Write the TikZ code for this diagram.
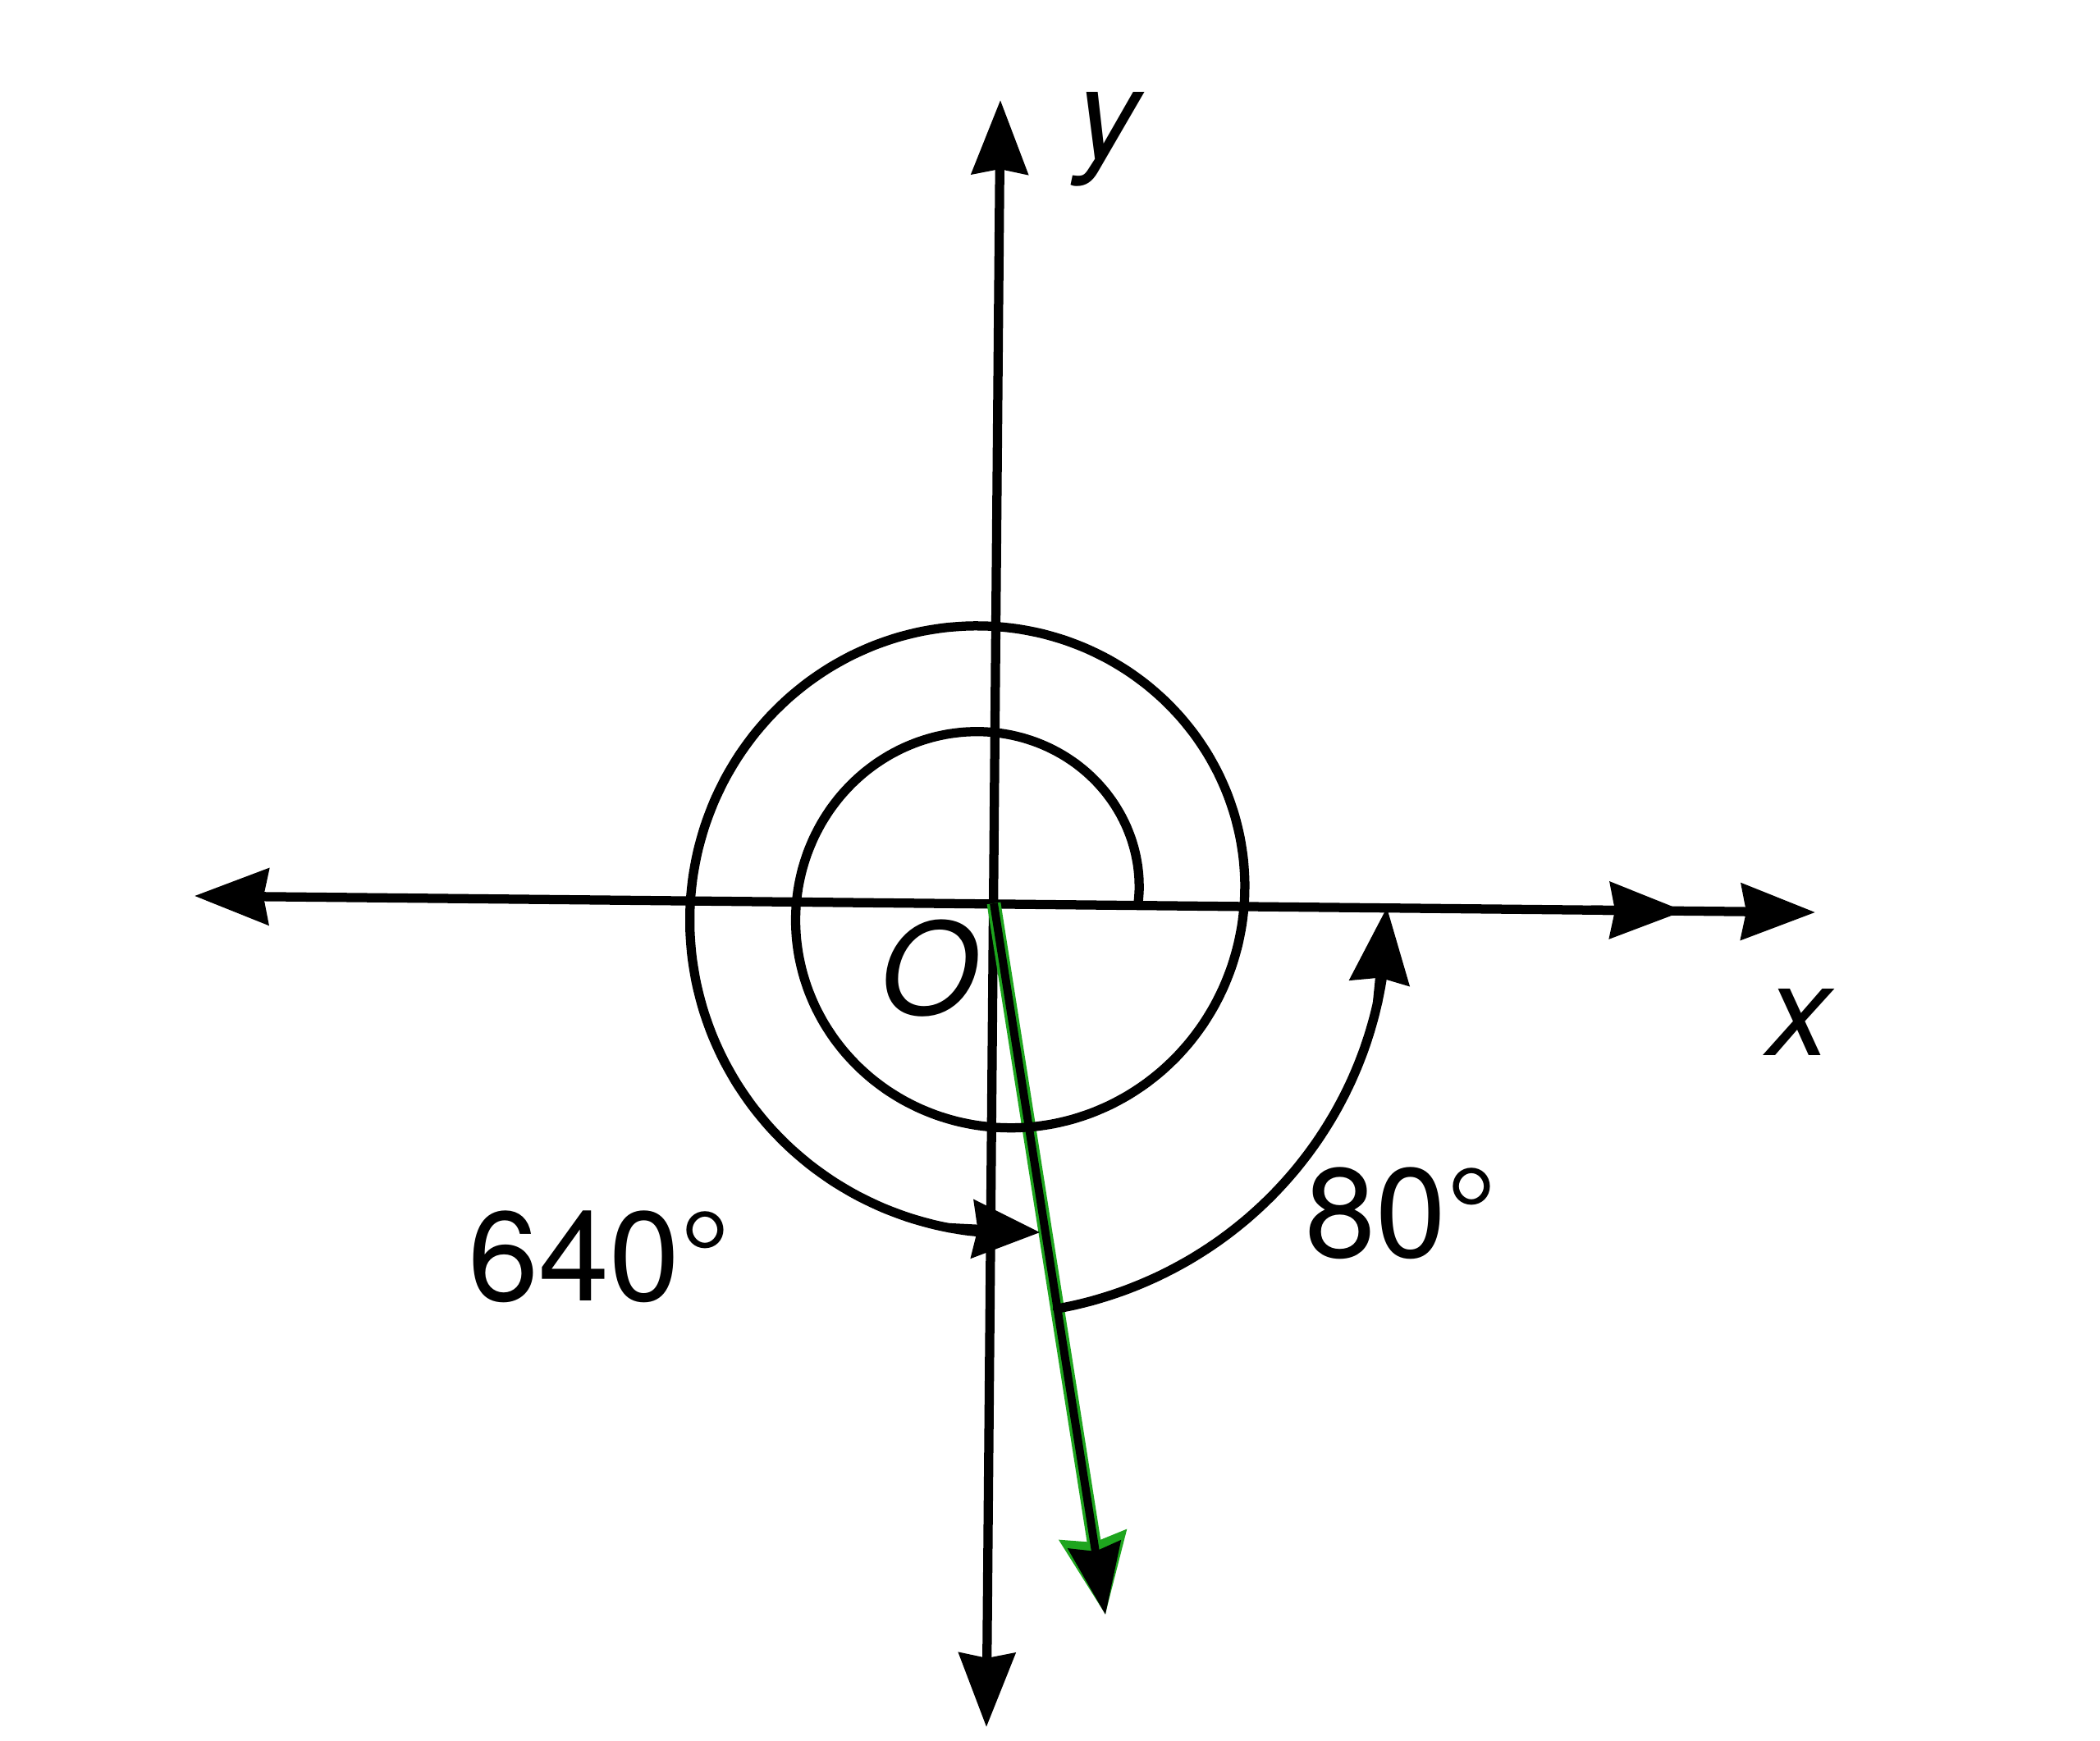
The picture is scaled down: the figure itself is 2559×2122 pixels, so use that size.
\documentclass[tikz,border=0pt]{standalone}
\usepackage{fontspec}
\setmainfont{TeX Gyre Heros}
\usetikzlibrary{arrows.meta}
\definecolor{gr}{RGB}{30,165,30}
\begin{document}
\begin{tikzpicture}[x=0.01cm,y=-0.01cm,
  ln/.style={line width=3.2pt, line join=round, line cap=round},
  tip/.tip={Stealth[length=0.9cm,width=0.68cm,inset=0.06cm]},
  tp/.style={-{tip}},
  btp/.style={{tip}-{tip}},
  lbl/.style={inner sep=0pt, anchor=base, font=\fontsize{44}{50}\selectfont}]
\useasboundingbox[fill=white] (0,0) rectangle (2559,2122);

% axes
\coordinate (O) at (1211,1101);
\coordinate (ytop) at (1219,122);
\coordinate (ybot) at (1202,2105);
\coordinate (xleft) at (237,1092);
\coordinate (xright) at (2212,1112);
\path (xleft) -- (xright) coordinate[pos=0.862] (xmidA) coordinate[pos=0.919] (xmidB);
\coordinate (g) at (1347,1968);

\draw[ln,btp] (ybot) -- (ytop);
\draw[ln,btp] (xleft) -- (xright);
\draw[ln,tp] (xmidA) -- (xmidB);

% green ray
\draw[line width=4.8pt, gr, -{Stealth[length=0.97cm,width=0.8cm,inset=0.08cm]}] (O) -- (g);
\draw[line width=2.8pt, black, -{Stealth[length=0.86cm,width=0.64cm,inset=0.08cm]}] (O) -- (g);

% 640 degree spiral
\draw[ln] plot[smooth, domain=0:630, samples=127, variable=\t]
  ({1211+(176+0.359*\t)*cos(\t)}, {1101-(176+0.359*\t)*sin(\t)});
\coordinate (sA) at ({1211+(176+0.359*622)*cos(622)}, {1101-(176+0.359*622)*sin(622)});
\coordinate (sB) at ({1211+(176+0.359*638)*cos(638)}, {1101-(176+0.359*638)*sin(638)});
\draw[ln,-{Stealth[length=0.82cm,width=0.7cm,inset=0.06cm]}] (sA) -- (sB);

% 80 degree arc
\draw[ln] plot[smooth, domain=-81:-6, samples=31, variable=\t]
  ({1211+(479-0.2*\t)*cos(\t)}, {1106-(479-0.2*\t)*sin(\t)});
\coordinate (aA) at ({1211+(479+0.2*14)*cos(-14)}, {1106+(479+0.2*14)*sin(14)});
\coordinate (aB) at ({1211+479*cos(0)}, {1106});
\draw[ln,-{Stealth[length=0.92cm,width=0.72cm,inset=0.06cm]}] (aA) -- (aB);

% labels
\node[lbl] (ly) at (1350,194) {\itshape y};
\node[lbl] (lx) at (2192,1287) {\itshape x};
\node[lbl] (lO) at (1132,1237) {\itshape O};
\node[lbl] (l640) at (730,1585) {640°};
\node[lbl] (l80) at (1707,1532) {80°};
\end{tikzpicture}
\end{document}
